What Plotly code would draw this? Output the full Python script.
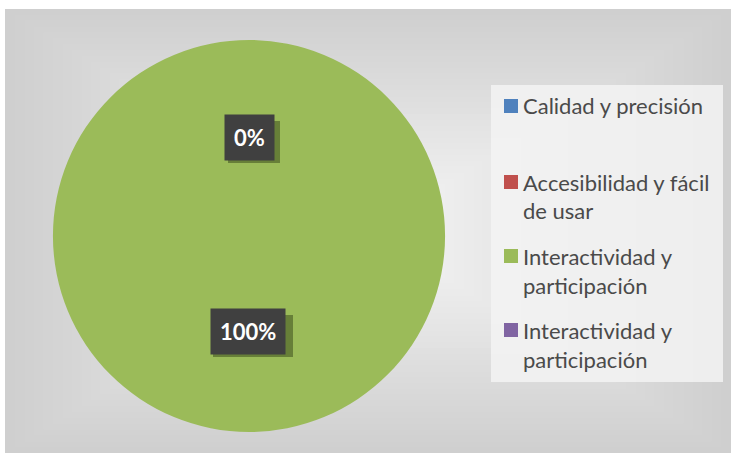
import plotly.graph_objects as go

# ---- data ----
categories = ["Calidad y precisión", "Accesibilidad y fácil de usar",
              "Interactividad y participación", "Interactividad y participación"]
legend_text = ["Calidad y precisión", "Accesibilidad y fácil\nde usar",
               "Interactividad y\nparticipación", "Interactividad y\nparticipación"]
values = [0, 0, 100, 0]
colors = ["#4F81BD", "#C0504D", "#9BBB59", "#8064A2"]

W, H = 731, 453
def px(x): return x / W
def py(y): return 1 - y / H

total = sum(values)
pct = [v / total * 100 for v in values]

fig = go.Figure()
fig.add_trace(go.Pie(
    labels=[f"{c} ({i})" for i, c in enumerate(categories)],
    values=values,
    marker=dict(colors=colors, line=dict(width=0)),
    textinfo="none", sort=False, direction="clockwise", rotation=0,
    showlegend=False, hoverinfo="label+percent",
    domain=dict(x=[px(53), px(445)], y=[py(432), py(40)]),
))

shapes = []
x0, y0, x1, y1 = 5, 9, 731, 453
steps = 36
c_out, c_in = 207, 243
for i in range(steps):
    t = i / (steps - 1)
    g = round(c_out + (c_in - c_out) * t)
    dx = (x1 - x0) / 2 * 0.92 * t
    dy = (y1 - y0) / 2 * 0.92 * t
    shapes.append(dict(type="rect", xref="paper", yref="paper",
                       x0=px(x0 + dx), x1=px(x1 - dx), y0=py(y1 - dy), y1=py(y0 + dy),
                       fillcolor=f"rgb({g},{g},{g})", line=dict(width=0), layer="below"))

# legend box
shapes.append(dict(type="rect", xref="paper", yref="paper",
                   x0=px(491), x1=px(723), y0=py(382), y1=py(85),
                   fillcolor="rgba(243,243,243,0.85)", line=dict(width=0), layer="below"))

annotations = []
item_y = [106, 182, 256, 330]
line_gap = 29
for i, txt in enumerate(legend_text):
    yc = item_y[i]
    shapes.append(dict(type="rect", xref="paper", yref="paper",
                       x0=px(504), x1=px(518), y0=py(yc + 7), y1=py(yc - 7),
                       fillcolor=colors[i], line=dict(width=0)))
    for j, line in enumerate(txt.split("\n")):
        annotations.append(dict(xref="paper", yref="paper", x=px(521), y=py(yc + j * line_gap),
                                text=line, showarrow=False, xanchor="left", yanchor="middle",
                                font=dict(family="Lato", size=22, color="#4a4a4a")))

# data labels: "0%" (zero slices, overlapping) and "100%"
label_pos = [(249, 137), (248, 331)]
label_w = [52, 80]
label_txt = [f"{round(min(pct))}%", f"{round(max(pct))}%"]
for (lx, ly), bw, t in zip(label_pos, label_w, label_txt):
    shapes.append(dict(type="rect", xref="paper", yref="paper",
                       x0=px(lx - bw / 2 + 5), x1=px(lx + bw / 2 + 5),
                       y0=py(ly + 21 + 5), y1=py(ly - 21 + 5),
                       fillcolor="rgba(40,55,15,0.45)", line=dict(width=0)))
    annotations.append(dict(xref="paper", yref="paper", x=px(lx), y=py(ly), text=f"<b>{t}</b>",
                            xanchor="center", yanchor="middle",
                            showarrow=False, bgcolor="#404040", borderpad=9,
                            font=dict(family="Lato", size=22, color="white")))

fig.update_layout(width=W, height=H, margin=dict(l=0, r=0, t=0, b=0),
                  paper_bgcolor="white", plot_bgcolor="white",
                  shapes=shapes, annotations=annotations)
fig.write_html("out.html", config={"displayModeBar": False},
               post_script="document.body.style.margin='0px';")
